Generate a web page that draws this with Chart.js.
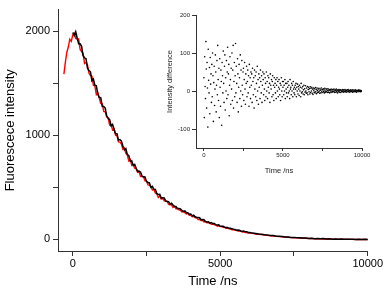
<!DOCTYPE html>
<html>
<head>
<meta charset="utf-8">
<script src="https://cdn.jsdelivr.net/npm/chart.js@4/dist/chart.umd.min.js"></script>
<style>
html,body{margin:0;padding:0;background:#fff;}
#wrap{position:relative;width:384px;height:290px;}
#main{position:absolute;left:0;top:0;}
#inset{position:absolute;left:150px;top:0;}
</style>
</head>
<body>
<div id="wrap">
<canvas id="main" width="384" height="290"></canvas>
<canvas id="inset" width="230" height="185"></canvas>
</div>
<script>
// ---- main decay data (time in ns) ----
const mainTimes = [-300,-250,-200,-150,-100,-50,
0,50,100,150,200,250,300,350,400,450,
500,550,600,650,700,750,800,850,900,950,
1000,1050,1100,1150,1200,1250,1300,1350,1400,1450,
1500,1550,1600,1650,1700,1750,1800,1850,1900,1950,
2000,2050,2100,2150,2200,2250,2300,2350,2400,2450,
2500,2550,2600,2650,2700,2750,2800,2850,2900,2950,
3000,3050,3100,3150,3200,3250,3300,3350,3400,3450,
3500,3550,3600,3650,3700,3750,3800,3850,3900,3950,
4000,4050,4100,4150,4200,4250,4300,4350,4400,4450,
4500,4550,4600,4650,4700,4750,4800,4850,4900,4950,
5000,5050,5100,5150,5200,5250,5300,5350,5400,5450,
5500,5550,5600,5650,5700,5750,5800,5850,5900,5950,
6000,
6100,6200,6300,6400,6500,6600,6700,6800,6900,7000,
7100,7200,7300,7400,7500,7600,7700,7800,7900,8000,
8100,8200,8300,8400,8500,8600,8700,8800,8900,9000,
9100,9200,9300,9400,9500,9600,9700,9800,9900,10000];
const blackSeries = [null,null,null,null,null,null,
1990,1960,1997,1937,1882,1882,1857,1767,1747,1737,
1647,1624,1612,1525,1542,1484,1477,1395,1367,1362,
1280,1278,1263,1189,1164,1153,1093,1106,1061,1019,
1017,955,960,946,898,862,874,816,808,751,
755,712,722,685,655,657,647,608,602,600,
558,547,543,501,510,482,480,442,432,434,
398,402,400,371,364,363,339,349,332,316,
316,297,298,293,280,270,274,258,257,242,
244,227,233,218,211,212,209,190,191,190,
172,169,170,156,162,153,154,141,139,140,
127,128,127,117,115,114,107,108,102,98,
97,89,90,88,82,78,80,73,73,67,
67,
61,58,52,51,45,44,38,37,31,30,
28,24,24,20,20,16,17,13,14,10,
12,8,10,6,8,5,6,3,5,3,
4,1,3,1,2,0,2,0,1,0];
const redSeries = [1590,1705,1800,1850,1925,1905,
1965,1985,1932,1927,1927,1827,1807,1787,1692,1702,
1677,1599,1577,1570,1482,1474,1392,1410,1357,1307,
1304,1231,1228,1180,1171,1100,1100,1053,1063,1002,
997,938,936,918,867,879,828,812,755,769,
712,721,686,680,644,648,604,604,601,564,
564,524,522,510,474,481,447,439,404,418,
388,395,371,370,367,336,333,333,307,317,
295,297,284,280,264,268,258,246,251,233,
232,219,223,209,209,191,194,183,184,169,
172,160,160,157,146,147,140,140,128,131,
123,123,116,115,108,110,102,100,93,95,
88,87,81,82,77,72,73,67,67,62,
62,
58,53,50,46,43,39,36,32,30,27,
25,22,21,18,17,15,14,12,11,9,
9,7,8,6,5,4,5,3,3,2,
3,1,2,1,1,0,1,0,0,0];
const mainXTicks = [0,2500,5000,7500,10000];
const mainXLabels = ['0','','5000','','10000'];
const mainYTicks = [0,500,1000,1500,2000];
const mainYLabels = ['0','','1000','','2000'];

// ---- inset residual data ----
const insetTimes = [
0,25,50,75,100,125,150,175,200,225,
250,275,300,325,350,375,400,425,450,475,
500,525,550,575,600,625,650,675,700,725,
750,775,800,825,850,875,900,925,950,975,
1000,1025,1050,1075,1100,1125,1150,1175,1200,1225,
1250,1275,1300,1325,1350,1375,1400,1425,1450,1475,
1500,1525,1550,1575,1600,1625,1650,1675,1700,1725,
1750,1775,1800,1825,1850,1875,1900,1925,1950,1975,
2000,2025,2050,2075,2100,2125,2150,2175,2200,2225,
2250,2275,2300,2325,2350,2375,2400,2425,2450,2475,
2500,2525,2550,2575,2600,2625,2650,2675,2700,2725,
2750,2775,2800,2825,2850,2875,2900,2925,2950,2975,
3000,3025,3050,3075,3100,3125,3150,3175,3200,3225,
3250,3275,3300,3325,3350,3375,3400,3425,3450,3475,
3500,3525,3550,3575,3600,3625,3650,3675,3700,3725,
3750,3775,3800,3825,3850,3875,3900,3925,3950,3975,
4000,4025,4050,4075,4100,4125,4150,4175,4200,4225,
4250,4275,4300,4325,4350,4375,4400,4425,4450,4475,
4500,4525,4550,4575,4600,4625,4650,4675,4700,4725,
4750,4775,4800,4825,4850,4875,4900,4925,4950,4975,
5000,5025,5050,5075,5100,5125,5150,5175,5200,5225,
5250,5275,5300,5325,5350,5375,5400,5425,5450,5475,
5500,5525,5550,5575,5600,5625,5650,5675,5700,5725,
5750,5775,5800,5825,5850,5875,5900,5925,5950,5975,
6000,6025,6050,6075,6100,6125,6150,6175,6200,6225,
6250,6275,6300,6325,6350,6375,6400,6425,6450,6475,
6500,6525,6550,6575,6600,6625,6650,6675,6700,6725,
6750,6775,6800,6825,6850,6875,6900,6925,6950,6975,
7000,7025,7050,7075,7100,7125,7150,7175,7200,7225,
7250,7275,7300,7325,7350,7375,7400,7425,7450,7475,
7500,7525,7550,7575,7600,7625,7650,7675,7700,7725,
7750,7775,7800,7825,7850,7875,7900,7925,7950,7975,
8000,8025,8050,8075,8100,8125,8150,8175,8200,8225,
8250,8275,8300,8325,8350,8375,8400,8425,8450,8475,
8500,8525,8550,8575,8600,8625,8650,8675,8700,8725,
8750,8775,8800,8825,8850,8875,8900,8925,8950,8975,
9000,9025,9050,9075,9100,9125,9150,9175,9200,9225,
9250,9275,9300,9325,9350,9375,9400,9425,9450,9475,
9500,9525,9550,9575,9600,9625,9650,9675,9700,9725,
9750,9775,9800,9825,9850,9875,9900,9925,9950,9975];
const insetDiff = [
35,-70,90,12,-20,130,58,-45,75,8,
-95,110,28,-5,62,-60,88,18,45,-30,
70,-15,100,40,-80,22,65,-38,5,95,
50,-55,15,80,-10,120,30,-25,60,-70,
85,10,-40,55,25,-90,75,40,-5,105,
20,-30,65,95,-50,35,0,80,-20,50,
115,-10,45,70,-65,15,90,30,-35,60,
5,100,-25,55,120,-45,25,75,-15,40,
125,-5,65,20,-30,85,45,-55,10,70,
35,-20,95,0,55,-40,80,15,-10,50,
60,-25,30,75,5,-35,45,20,65,-15,
25,55,-5,40,-40,70,10,35,-20,50,
15,45,-30,60,25,-10,35,-45,55,5,
40,-15,50,20,-25,65,0,30,-35,45,
10,35,-20,55,25,-5,40,-30,15,50,
30,-10,45,5,-25,35,20,-15,50,0,
25,-20,40,10,35,-5,20,-30,45,15,
5,30,-15,25,40,-10,15,-25,35,10,
20,-5,30,-20,15,35,0,25,-15,10,
30,5,-10,20,-25,15,35,0,-15,25,
10,25,-10,15,0,30,-20,20,5,-5,
20,-15,10,25,-5,15,0,-20,30,5,
10,-10,20,0,15,-15,25,5,-5,10,
-10,15,5,20,-15,10,0,18,-8,12,
5,-12,15,0,10,-15,20,-5,8,-2,
12,-8,3,15,-10,6,-3,14,0,-6,
8,-5,12,-10,4,10,-2,6,-8,11,
-4,7,0,10,-6,5,-9,8,2,-3,
6,-5,9,-2,4,-7,8,1,-4,5,
-3,7,0,-6,5,2,-5,8,-2,3,
4,-4,6,-1,3,-5,7,0,-3,5,
-2,5,1,-4,6,-3,2,4,-5,1,
3,-3,5,0,-4,4,-1,3,-2,5,
0,-4,3,2,-3,5,-1,1,-5,3,
2,-2,4,-3,1,3,-4,2,0,-2,
4,-1,2,-3,3,0,-2,4,-1,1,
-3,2,0,3,-2,4,-1,1,-3,2,
1,-2,3,0,-1,2,-3,3,0,-2,
2,0,-2,3,-1,1,-3,2,0,1,
-2,1,3,-1,0,2,-2,1,-1,0];
const insetXTicks = [0,2500,5000,7500,10000];
const insetXLabels = ['0','','5000','','10000'];
const insetYTicks = [-100,0,100,200];

const FONT = 'Liberation Sans, Arial, sans-serif';
const AX = '#333';

function pts(xs, ys){ return xs.map((x,i)=> (ys[i]===null? null : {x:x, y:ys[i]})).filter(p=>p); }
function fixTicks(list){ return function(scale){ scale.ticks = list.map(v=>({value:v})); }; }

new Chart(document.getElementById('main'), {
  type: 'line',
  data: {
    datasets: [
      {label:'black', data: pts(mainTimes, blackSeries), borderColor:'#000', borderWidth:1.5, pointRadius:0, tension:0},
      {label:'red', data: pts(mainTimes, redSeries), borderColor:'#ff0000', borderWidth:1.4, pointRadius:0, tension:0}
    ]
  },
  options: {
    responsive:false, animation:false, clip:false,
    layout:{padding:{left:0,right:16,top:0,bottom:0}},
    plugins:{legend:{display:false}, tooltip:{enabled:false}},
    scales:{
      x:{type:'linear', min:-500, max:10000,
        afterBuildTicks: fixTicks(mainXTicks),
        afterFit: s=>{ s.height = 39; },
        grid:{drawOnChartArea:false, tickLength:5, color:AX},
        border:{color:AX, width:1},
        ticks:{font:{family:FONT,size:11}, color:'#000', padding:1, maxRotation:0, autoSkip:false,
          callback:(v,i)=>mainXLabels[i]},
        title:{display:true, text:'Time /ns', font:{family:FONT,size:13}, color:'#000', padding:{top:0,bottom:1}}
      },
      y:{type:'linear', min:-111, max:2210,
        afterBuildTicks: fixTicks(mainYTicks),
        afterFit: s=>{ s.width = 58; },
        grid:{drawOnChartArea:false, tickLength:5, color:AX},
        border:{color:AX, width:1},
        ticks:{font:{family:FONT,size:11}, color:'#000', padding:3, autoSkip:false,
          callback:(v,i)=>mainYLabels[i]},
        title:{display:true, text:'Fluorescece intensity', font:{family:FONT,size:13}, color:'#000', padding:{top:3,bottom:0}}
      }
    }
  }
});

new Chart(document.getElementById('inset'), {
  type: 'scatter',
  data: {
    datasets: [
      {label:'diff', data: pts(insetTimes, insetDiff), backgroundColor:'#000', borderColor:'#000', pointRadius:0.8, borderWidth:0}
    ]
  },
  options: {
    responsive:false, animation:false,
    layout:{padding:{left:0,right:18,top:15,bottom:0}},
    plugins:{legend:{display:false}, tooltip:{enabled:false}},
    scales:{
      x:{type:'linear', min:-500, max:10000,
        afterBuildTicks: fixTicks(insetXTicks),
        afterFit: s=>{ s.height = 37; },
        grid:{drawOnChartArea:false, tickLength:3, color:AX},
        border:{color:AX, width:1},
        ticks:{font:{family:FONT,size:6}, color:'#222', padding:1, maxRotation:0, autoSkip:false,
          callback:(v,i)=>insetXLabels[i]},
        title:{display:true, text:'Time /ns', font:{family:FONT,size:7.5}, color:'#222', padding:{top:0,bottom:10}}
      },
      y:{type:'linear', min:-150, max:200,
        afterBuildTicks: fixTicks(insetYTicks),
        afterFit: s=>{ s.width = 46; },
        grid:{drawOnChartArea:false, tickLength:4, color:AX},
        border:{color:AX, width:1},
        ticks:{font:{family:FONT,size:6}, color:'#222', padding:2, autoSkip:false},
        title:{display:true, text:'Intensity difference', font:{family:FONT,size:7.5}, color:'#222', padding:{top:15,bottom:0}}
      }
    }
  }
});
</script>
</body>
</html>
